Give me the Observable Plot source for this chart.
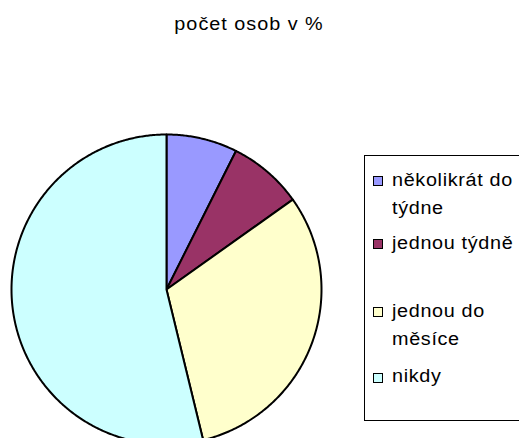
<!DOCTYPE html>
<html>
<head>
<meta charset="utf-8">
<script src="https://cdn.jsdelivr.net/npm/d3@7"></script>
<script src="https://cdn.jsdelivr.net/npm/@observablehq/plot@0.6"></script>
<style>
  html, body { margin: 0; padding: 0; background: #fff; }
  #wrap { position: relative; width: 519px; height: 438px; overflow: hidden; font-family: "Liberation Sans", Arial, sans-serif; }
  #title { position: absolute; left: 0; width: 498px; top: 15px; text-align: center; font-size: 18px; letter-spacing: 0.9px; color: #000; line-height: 18px; white-space: nowrap; transform: scaleX(1.1); transform-origin: 249px 0; }
  #chart { position: absolute; left: 0; top: 0; }
  #legend { position: absolute; left: 364px; top: 155px; width: 160px; height: 266px; border: 1px solid #000; box-sizing: border-box; background: #fff; }
  .sw { position: absolute; width: 10px; height: 10px; border: 1px solid #000; box-sizing: border-box; left: 8px; }
  .lt { position: absolute; left: 27px; font-size: 18px; letter-spacing: 0.6px; line-height: 18px; white-space: nowrap; color: #000; transform: scaleX(1.1); transform-origin: 0 0; }
</style>
</head>
<body>
<div id="wrap">
  <div id="chart"></div>
  <div id="title"></div>
  <div id="legend"></div>
</div>
<script>
const titleText = "počet osob v %";
const categories = ["několikrát do týdne", "jednou týdně", "jednou do měsíce", "nikdy"];
const legendLines = [["několikrát do", "týdne"], ["jednou týdně"], ["jednou do", "měsíce"], ["nikdy"]];
const values = [7.4, 7.75, 31.05, 53.8];
const colors = ["#9999FF", "#993366", "#FFFFCC", "#CCFFFF"];

document.getElementById("title").textContent = titleText;

const table = categories.map((c, i) => ({category: c, value: values[i], color: colors[i]}));
const arcs = d3.pie().sort(null).value(d => d.value).startAngle(0).endAngle(2 * Math.PI)(table);

// polygon outline for each slice, in unit-circle coordinates
function slicePoints(a) {
  const pts = [{x: 0, y: 0}];
  const n = Math.max(2, Math.ceil((a.endAngle - a.startAngle) / (Math.PI / 360)));
  for (let k = 0; k <= n; k++) {
    const t = a.startAngle + (a.endAngle - a.startAngle) * k / n;
    pts.push({x: Math.sin(t), y: Math.cos(t)});
  }
  pts.push({x: 0, y: 0});
  return pts;
}

const marks = arcs.map(a => Plot.line(slicePoints(a), {
  x: "x", y: "y", fill: a.data.color, stroke: "#000", strokeWidth: 2, curve: "linear", strokeLinejoin: "round"
}));

const svg = Plot.plot({
  width: 519,
  height: 438,
  margin: 0,
  x: {domain: [-1, 1], range: [11, 321], axis: null},
  y: {domain: [-1, 1], range: [444, 134], axis: null},
  marks
});
document.getElementById("chart").appendChild(svg);

// legend
const lg = document.getElementById("legend");
const swatchTops = [20, 83, 151, 217];
const lineTops = [[15, 43], [78], [146, 174], [211]];
table.forEach((d, i) => {
  const sw = document.createElement("div");
  sw.className = "sw";
  sw.style.top = swatchTops[i] + "px";
  sw.style.background = d.color;
  lg.appendChild(sw);
  legendLines[i].forEach((line, j) => {
    const t = document.createElement("div");
    t.className = "lt";
    t.style.top = lineTops[i][j] + "px";
    t.textContent = line;
    lg.appendChild(t);
  });
});
</script>
</body>
</html>
